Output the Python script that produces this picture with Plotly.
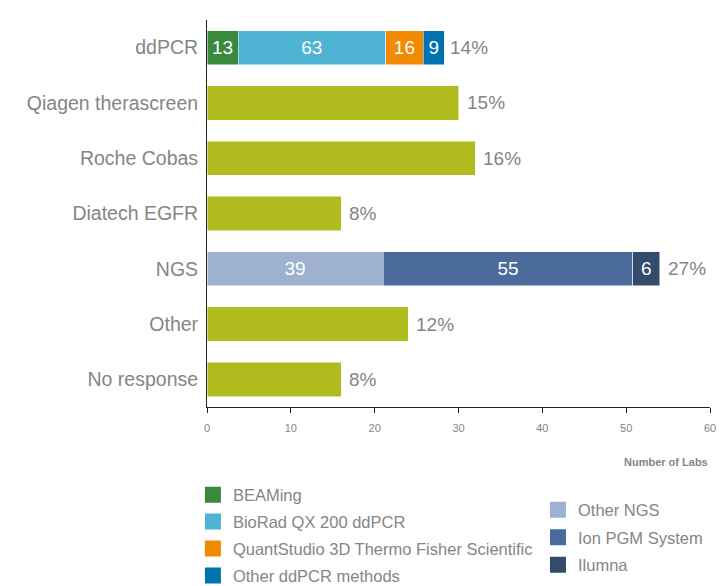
import plotly.graph_objects as go

methods = ['ddPCR', 'Qiagen therascreen', 'Roche Cobas', 'Diatech EGFR', 'NGS', 'Other', 'No response']
totals = [28, 30, 32, 16, 54, 24, 16]
share_labels = ['14%', '15%', '16%', '8%', '27%', '12%', '8%']

# single-colour bars (methods without a breakdown)
plain_methods = ['Qiagen therascreen', 'Roche Cobas', 'Diatech EGFR', 'Other', 'No response']
plain_values = [30, 32, 16, 24, 16]

# ddPCR breakdown
ddpcr_names = ['BEAMing', 'BioRad QX 200 ddPCR', 'QuantStudio 3D Thermo Fisher Scientific', 'Other ddPCR methods']
ddpcr_values = [3.7, 17.6, 4.5, 2.5]
ddpcr_pct = [13, 63, 16, 9]
ddpcr_colors = ['#3a8a3e', '#4fb3d4', '#f08a00', '#0071b1']

# NGS breakdown
ngs_names = ['Other NGS', 'Ion PGM System', 'Ilumna']
ngs_values = [21.0, 29.8, 3.2]
ngs_pct = [39, 55, 6]
ngs_colors = ['#9eb2d0', '#4a6b9b', '#344b6d']

olive = '#b0bb1e'
gray = '#858585'
font = 'Liberation Sans, Arial, sans-serif'

fig = go.Figure()

fig.add_trace(go.Bar(y=plain_methods, x=plain_values, orientation='h',
                     marker=dict(color=olive, line=dict(color='white', width=0.5)),
                     showlegend=False, hoverinfo='x+y'))

def add_group(names, values, pcts, colors, cat, legend):
    for name, val, pct, col in zip(names, values, pcts, colors):
        fig.add_trace(go.Bar(y=[cat], x=[val], orientation='h', name=name,
                             legendgroup=name, showlegend=False,
                             marker=dict(color=col, line=dict(color='white', width=0.5)),
                             text=[str(pct)], textposition='inside', insidetextanchor='middle',
                             textangle=0, constraintext='none',
                             textfont=dict(color='white', size=19, family=font)))
        # legend entry with a bigger square swatch
        fig.add_trace(go.Scatter(x=[None], y=[None], mode='markers', name=name,
                                 legendgroup=name, legend=legend, hoverinfo='skip',
                                 marker=dict(symbol='square', size=16, color=col)))

add_group(ddpcr_names, ddpcr_values, ddpcr_pct, ddpcr_colors, 'ddPCR', 'legend')
add_group(ngs_names, ngs_values, ngs_pct, ngs_colors, 'NGS', 'legend2')

# share labels at the end of each bar
for m, t, s in zip(methods, totals, share_labels):
    fig.add_annotation(x=t, y=m, text=s, showarrow=False, xanchor='left', xshift=6,
                       font=dict(size=19, color=gray, family=font))

fig.add_annotation(x=1, y=-0.142, xref='paper', yref='paper', text='<b>Number of Labs</b>',
                   showarrow=False, xanchor='right', yanchor='middle',
                   font=dict(size=11, color=gray, family=font))

# page body has an 8px margin, so the figure is 8px smaller on each side
fig.update_layout(
    width=716, height=578,
    barmode='stack', bargap=0.38,
    plot_bgcolor='white', paper_bgcolor='white',
    margin=dict(l=199, r=14, t=12, b=179, autoexpand=False),
    font=dict(family=font, color=gray),
    legend=dict(x=-0.028, y=-0.182, xanchor='left', yanchor='top', traceorder='grouped',
                font=dict(size=16.5, color=gray, family=font), tracegroupgap=2.5,
                itemsizing='trace', bgcolor='rgba(0,0,0,0)'),
    legend2=dict(x=0.658, y=-0.221, xanchor='left', yanchor='top', traceorder='grouped',
                 font=dict(size=16.5, color=gray, family=font), tracegroupgap=3,
                 itemsizing='trace', bgcolor='rgba(0,0,0,0)'),
)

fig.update_xaxes(range=[0, 60], dtick=10, showgrid=False, zeroline=False, automargin=False,
                 showline=True, linecolor='#222', linewidth=1,
                 ticks='outside', ticklen=5, tickcolor='#222', ticklabelstandoff=6,
                 tickfont=dict(size=11, color=gray, family='Liberation Sans Bold, Arial, sans-serif'))
fig.update_yaxes(categoryorder='array', categoryarray=methods[::-1], showgrid=False, automargin=False,
                 showline=True, linecolor='#222', linewidth=1, ticks='', ticklabelstandoff=4,
                 tickfont=dict(size=19.5, color=gray, family=font))

fig.write_html('out.html')
